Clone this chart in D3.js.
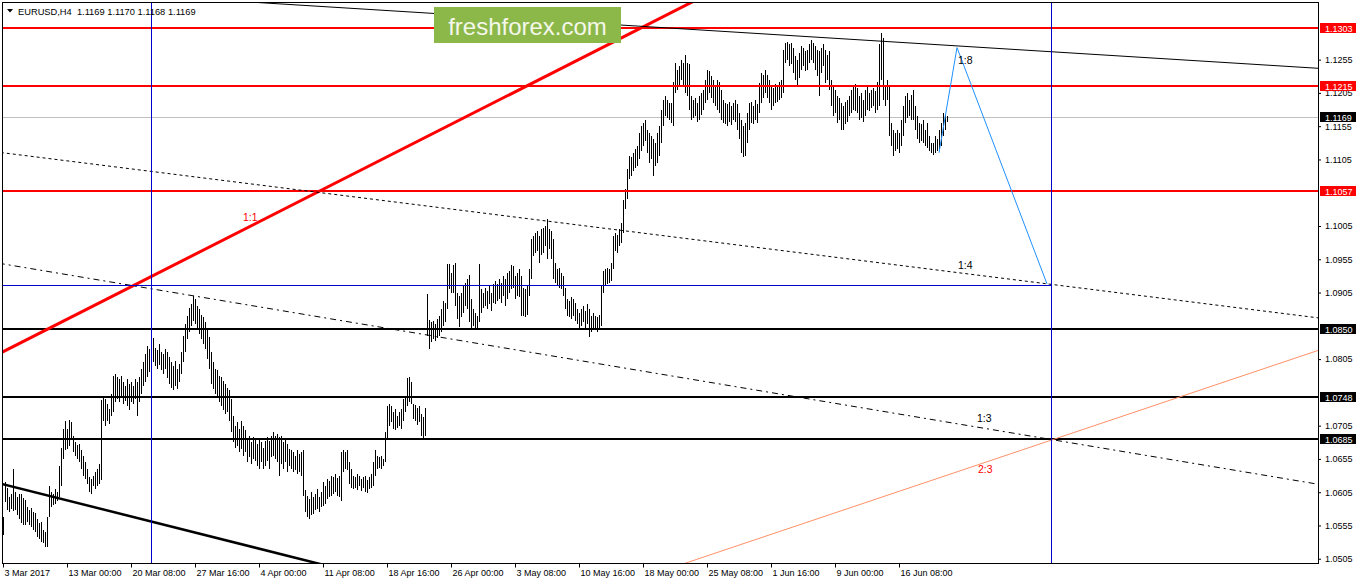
<!DOCTYPE html>
<html><head><meta charset="utf-8">
<script src="https://cdn.jsdelivr.net/npm/d3@7"></script>
<style>
html,body{margin:0;padding:0;background:#fff;}
svg{display:block;}
text{font-family:"Liberation Sans",Arial,sans-serif;}
</style></head><body>
<svg id="chart" width="1358" height="584"></svg>
<script>
// ---------------- DATA ----------------
const symbolTitle = "EURUSD,H4  1.1169 1.1170 1.1168 1.1169";
const timeLabels = ["3 Mar 2017","13 Mar 00:00","20 Mar 08:00","27 Mar 16:00","4 Apr 00:00","11 Apr 08:00","18 Apr 16:00","26 Apr 00:00","3 May 08:00","10 May 16:00","18 May 00:00","25 May 08:00","1 Jun 16:00","9 Jun 00:00","16 Jun 08:00"];
const timeLabelBars = [0,32,64,96,128,160,192,224,256,288,320,352,384,416,448];
// scale labels (those hidden under level boxes are left out)
const priceTicks = [1.0505,1.0555,1.0605,1.0655,1.0705,1.0805,1.0905,1.0955,1.1005,1.1105,1.1155,1.1205,1.1255];

// H4 bar highs / lows (bar index = position on the time axis)
const highs = [
1.0568,1.0620,1.0612,1.0598,1.0602,1.0640,1.0605,1.0598,1.0603,1.0603,1.0597,1.0593,1.0583,1.0578,1.0581,1.0575,1.0573,1.0565,1.0558,1.0560,
1.0548,1.0545,1.0568,1.0614,1.0606,1.0602,1.0610,1.0605,1.0645,1.0672,1.0700,1.0712,1.0700,1.0714,1.0710,1.0690,1.0680,1.0676,1.0678,1.0668,
1.0660,1.0650,1.0640,1.0628,1.0625,1.0630,1.0635,1.0640,1.0648,1.0744,1.0748,1.0745,1.0738,1.0730,1.0752,1.0780,1.0782,1.0778,1.0775,1.0780,
1.0770,1.0765,1.0775,1.0768,1.0770,1.0765,1.0775,1.0770,1.0778,1.0790,1.0800,1.0812,1.0825,1.0820,1.0830,1.0836,1.0822,1.0818,1.0828,1.0815,
1.0812,1.0820,1.0815,1.0808,1.0800,1.0795,1.0802,1.0790,1.0798,1.0815,1.0840,1.0858,1.0870,1.0882,1.0888,1.0900,1.0895,1.0885,1.0880,1.0872,
1.0868,1.0860,1.0852,1.0838,1.0815,1.0800,1.0790,1.0788,1.0780,1.0778,1.0772,1.0768,1.0762,1.0758,1.0745,1.0720,1.0705,1.0710,1.0700,1.0712,
1.0705,1.0698,1.0685,1.0690,1.0680,1.0688,1.0683,1.0678,1.0685,1.0680,1.0672,1.0682,1.0688,1.0682,1.0690,1.0695,1.0690,1.0693,1.0688,1.0690,
1.0680,1.0686,1.0678,1.0670,1.0668,1.0665,1.0660,1.0668,1.0662,1.0665,1.0668,1.0608,1.0600,1.0595,1.0605,1.0598,1.0603,1.0610,1.0598,1.0605,
1.0620,1.0615,1.0625,1.0622,1.0630,1.0628,1.0632,1.0626,1.0630,1.0665,1.0668,1.0665,1.0668,1.0650,1.0640,1.0630,1.0628,1.0632,1.0630,1.0625,
1.0628,1.0630,1.0624,1.0628,1.0632,1.0650,1.0668,1.0660,1.0658,1.0660,1.0655,1.0695,1.0735,1.0738,1.0735,1.0725,1.0730,1.0720,1.0726,1.0730,
1.0745,1.0748,1.0776,1.0778,1.0770,1.0738,1.0736,1.0732,1.0735,1.0722,1.0718,1.0732,1.0903,1.0864,1.0860,1.0862,1.0858,1.0866,1.0870,1.0880,
1.0892,1.0890,1.0948,1.0948,1.0935,1.0946,1.0950,1.0905,1.0900,1.0905,1.0915,1.0920,1.0925,1.0931,1.0895,1.0880,1.0875,1.0870,1.0948,1.0910,
1.0905,1.0912,1.0908,1.0915,1.0905,1.0918,1.0922,1.0918,1.0925,1.0920,1.0930,1.0925,1.0935,1.0938,1.0946,1.0945,1.0930,1.0935,1.0940,1.0930,
1.0912,1.0910,1.0915,1.0940,1.0985,1.0990,1.0995,1.0998,1.0990,1.1000,1.1002,1.1005,1.1015,1.1000,1.0998,1.0985,1.0950,1.0940,1.0942,1.0935,
1.0930,1.0912,1.0895,1.0892,1.0898,1.0895,1.0890,1.0880,1.0875,1.0880,1.0885,1.0878,1.0888,1.0880,1.0870,1.0875,1.0870,1.0868,1.0872,1.0915,
1.0938,1.0940,1.0942,1.0940,1.0950,1.0990,1.0995,1.0992,1.1000,1.1010,1.1044,1.1060,1.1090,1.1110,1.1108,1.1115,1.1120,1.1125,1.1145,1.1155,
1.1160,1.1165,1.1150,1.1145,1.1140,1.1135,1.1130,1.1145,1.1155,1.1180,1.1195,1.1200,1.1195,1.1190,1.1190,1.1222,1.1250,1.1240,1.1245,1.1255,
1.1250,1.1262,1.1250,1.1248,1.1200,1.1195,1.1198,1.1190,1.1200,1.1205,1.1210,1.1225,1.1240,1.1238,1.1230,1.1225,1.1215,1.1225,1.1222,1.1210,
1.1195,1.1190,1.1188,1.1192,1.1185,1.1190,1.1195,1.1188,1.1175,1.1165,1.1155,1.1160,1.1175,1.1190,1.1192,1.1185,1.1195,1.1188,1.1220,1.1235,
1.1232,1.1240,1.1232,1.1225,1.1215,1.1212,1.1218,1.1215,1.1222,1.1225,1.1270,1.1280,1.1282,1.1278,1.1280,1.1272,1.1260,1.1255,1.1265,1.1275,
1.1272,1.1268,1.1270,1.1278,1.1285,1.1280,1.1275,1.1270,1.1268,1.1272,1.1278,1.1270,1.1262,1.1268,1.1225,1.1215,1.1210,1.1200,1.1198,1.1190,
1.1185,1.1192,1.1195,1.1200,1.1210,1.1215,1.1218,1.1212,1.1200,1.1205,1.1195,1.1210,1.1215,1.1205,1.1210,1.1212,1.1208,1.1222,1.1278,1.1295,
1.1288,1.1215,1.1225,1.1215,1.1160,1.1150,1.1145,1.1150,1.1145,1.1165,1.1185,1.1200,1.1205,1.1195,1.1202,1.1210,1.1185,1.1170,1.1160,1.1158,
1.1165,1.1150,1.1160,1.1140,1.1130,1.1130,1.1140,1.1135,1.1150,1.1160,1.1175,1.1172,1.1170];
const lows = [
1.0541,1.0590,1.0578,1.0575,1.0579,1.0577,1.0578,1.0570,1.0565,1.0558,1.0556,1.0556,1.0560,1.0556,1.0553,1.0548,1.0545,1.0538,1.0535,1.0530,
1.0528,1.0523,1.0523,1.0568,1.0583,1.0586,1.0588,1.0592,1.0598,1.0615,1.0655,1.0668,1.0670,1.0675,1.0685,1.0665,1.0660,1.0655,1.0650,1.0640,
1.0630,1.0625,1.0618,1.0605,1.0602,1.0615,1.0610,1.0615,1.0618,1.0623,1.0712,1.0705,1.0712,1.0708,1.0720,1.0725,1.0740,1.0745,1.0740,1.0750,
1.0738,1.0742,1.0735,1.0728,1.0740,1.0738,1.0745,1.0720,1.0740,1.0752,1.0765,1.0770,1.0778,1.0785,1.0792,1.0800,1.0795,1.0790,1.0796,1.0788,
1.0782,1.0790,1.0776,1.0768,1.0762,1.0758,1.0765,1.0760,1.0770,1.0782,1.0800,1.0815,1.0835,1.0845,1.0855,1.0862,1.0858,1.0850,1.0842,1.0835,
1.0828,1.0820,1.0805,1.0790,1.0768,1.0760,1.0752,1.0748,1.0740,1.0735,1.0728,1.0722,1.0726,1.0712,1.0695,1.0680,1.0672,1.0675,1.0665,1.0670,
1.0660,1.0665,1.0650,1.0658,1.0648,1.0655,1.0652,1.0645,1.0640,1.0650,1.0640,1.0645,1.0652,1.0640,1.0658,1.0660,1.0655,1.0650,1.0630,1.0648,
1.0640,1.0650,1.0635,1.0645,1.0640,1.0635,1.0638,1.0632,1.0636,1.0630,1.0600,1.0575,1.0568,1.0565,1.0570,1.0572,1.0578,1.0580,1.0575,1.0582,
1.0585,1.0588,1.0595,1.0598,1.0600,1.0603,1.0605,1.0600,1.0598,1.0592,1.0635,1.0640,1.0638,1.0618,1.0612,1.0610,1.0612,1.0608,1.0615,1.0607,
1.0612,1.0605,1.0604,1.0610,1.0612,1.0615,1.0630,1.0640,1.0642,1.0640,1.0645,1.0650,1.0685,1.0705,1.0710,1.0700,1.0698,1.0702,1.0705,1.0700,
1.0712,1.0725,1.0735,1.0740,1.0738,1.0715,1.0712,1.0706,1.0710,1.0690,1.0685,1.0690,1.0840,1.0820,1.0830,1.0835,1.0832,1.0836,1.0840,1.0845,
1.0855,1.0860,1.0880,1.0910,1.0905,1.0905,1.0885,1.0865,1.0853,1.0868,1.0875,1.0885,1.0880,1.0860,1.0852,1.0855,1.0852,1.0852,1.0860,1.0875,
1.0882,1.0885,1.0880,1.0888,1.0878,1.0890,1.0888,1.0892,1.0895,1.0890,1.0900,1.0885,1.0895,1.0905,1.0910,1.0912,1.0895,1.0900,1.0898,1.0870,
1.0870,1.0868,1.0872,1.0900,1.0925,1.0960,1.0965,1.0968,1.0950,1.0962,1.0965,1.0975,1.0955,1.0970,1.0955,1.0925,1.0920,1.0915,1.0912,1.0910,
1.0900,1.0880,1.0870,1.0868,1.0865,1.0870,1.0862,1.0858,1.0852,1.0855,1.0860,1.0852,1.0858,1.0838,1.0845,1.0848,1.0850,1.0845,1.0848,1.0855,
1.0905,1.0915,1.0918,1.0920,1.0922,1.0940,1.0968,1.0965,1.0975,1.0980,1.0995,1.1030,1.1045,1.1075,1.1080,1.1088,1.1092,1.1095,1.1105,1.1118,
1.1125,1.1132,1.1115,1.1100,1.1105,1.1080,1.1095,1.1100,1.1110,1.1130,1.1155,1.1170,1.1168,1.1165,1.1160,1.1155,1.1205,1.1210,1.1215,1.1225,
1.1215,1.1205,1.1200,1.1180,1.1165,1.1168,1.1170,1.1162,1.1165,1.1172,1.1180,1.1190,1.1195,1.1205,1.1198,1.1190,1.1185,1.1180,1.1175,1.1165,
1.1160,1.1158,1.1155,1.1162,1.1157,1.1165,1.1162,1.1150,1.1135,1.1115,1.1108,1.1110,1.1130,1.1150,1.1160,1.1158,1.1165,1.1160,1.1175,1.1190,
1.1198,1.1205,1.1198,1.1190,1.1180,1.1185,1.1190,1.1192,1.1195,1.1198,1.1205,1.1250,1.1255,1.1245,1.1248,1.1235,1.1225,1.1215,1.1228,1.1240,
1.1245,1.1238,1.1240,1.1250,1.1255,1.1250,1.1240,1.1230,1.1200,1.1235,1.1245,1.1220,1.1225,1.1210,1.1185,1.1170,1.1175,1.1160,1.1165,1.1150,
1.1150,1.1158,1.1162,1.1170,1.1175,1.1180,1.1178,1.1175,1.1165,1.1168,1.1162,1.1170,1.1180,1.1178,1.1182,1.1185,1.1175,1.1180,1.1185,1.1225,
1.1195,1.1185,1.1195,1.1140,1.1125,1.1110,1.1118,1.1120,1.1115,1.1125,1.1140,1.1160,1.1168,1.1170,1.1165,1.1165,1.1150,1.1135,1.1130,1.1132,
1.1130,1.1125,1.1122,1.1118,1.1115,1.1112,1.1115,1.1118,1.1120,1.1125,1.1140,1.1150,1.1162];

const redLevels = [1.1303, 1.1215, 1.1057];
const blackLevels = [1.0850, 1.0748, 1.0685];
const lastPrice = 1.1169;

// trend lines: two anchor points [barIndex, price]
const trendLines = [
  {anchors: [[0, 1.0816], [343.5, 1.1340]], color: "#ff0000", width: 3,   dash: null},        // 1:1
  {anchors: [[341, 1.1301], [657.5, 1.1242]], color: "#000000", width: 1, dash: null},        // upper channel
  {anchors: [[0, 1.1115], [657.5, 1.0867]], color: "#000000", width: 1,   dash: "3,3"},       // 1:4
  {anchors: [[0, 1.0948], [657.5, 1.0617]], color: "#000000", width: 1,   dash: "6,4,2,4"},   // 1:3
  {anchors: [[341.85, 1.0499], [657.5, 1.0818]], color: "#ff9068", width: 1, dash: null},     // 2:3
  {anchors: [[0, 1.0617], [156, 1.0499]], color: "#000000", width: 2.5, dash: null}           // lower channel
];
const projection = [[468, 1.1115], [477, 1.1273], [522, 1.0918]];
const markerBars = [74, 524];
const markerPrice = 1.0916;
const annotations = [
  {text: "1:1", bar: 120,   price: 1.1012, color: "#ff0000"},
  {text: "1:8", bar: 477.5, price: 1.1248, color: "#000000"},
  {text: "1:4", bar: 477.5, price: 1.0941, color: "#000000"},
  {text: "1:3", bar: 487,   price: 1.0710, color: "#000000"},
  {text: "2:3", bar: 487.5, price: 1.0634, color: "#ff0000"}
];

// ---------------- DRAW ----------------
const svg = d3.select("#chart");
const L = 3, R = 1318, T = 3, B = 563;
const x = d3.scaleLinear().domain([0, 657.5]).range([L, R]);
const y = d3.scaleLinear().domain([1.04986, 1.13401]).range([B, T]);

svg.append("rect").attr("width", 1358).attr("height", 584).attr("fill", "#fff");
svg.append("clipPath").attr("id", "plotClip")
  .append("rect").attr("x", L).attr("y", T).attr("width", R - L).attr("height", B - T);

const plot = svg.append("g").attr("clip-path", "url(#plotClip)");

// current price line
plot.append("line")
  .attr("x1", L).attr("x2", R)
  .attr("y1", Math.round(y(lastPrice)) + 0.5).attr("y2", Math.round(y(lastPrice)) + 0.5)
  .attr("stroke", "#c0c0c0").attr("stroke-width", 1);

// bars
const bars = highs.map((h, i) => ({i, h, l: lows[i]}));
plot.append("g").attr("shape-rendering", "crispEdges")
  .selectAll("line").data(bars).join("line")
  .attr("x1", d => Math.round(x(d.i)) + 0.5).attr("x2", d => Math.round(x(d.i)) + 0.5)
  .attr("y1", d => Math.round(y(d.h))).attr("y2", d => Math.max(Math.round(y(d.l)), Math.round(y(d.h)) + 1))
  .attr("stroke", "#000").attr("stroke-width", 1);

// horizontal levels
plot.append("g").attr("shape-rendering", "crispEdges")
  .selectAll("line").data(redLevels.map(v => ({v, c: "#ff0000"})).concat(blackLevels.map(v => ({v, c: "#000000"}))))
  .join("line")
  .attr("x1", L).attr("x2", R)
  .attr("y1", d => Math.round(y(d.v))).attr("y2", d => Math.round(y(d.v)))
  .attr("stroke", d => d.c).attr("stroke-width", 2);

// trend lines (extended across the chart)
function extend(a) {
  const [p1, p2] = a;
  const k = (p2[1] - p1[1]) / (p2[0] - p1[0]);
  const x0 = -10, x1 = 670;
  return [[x0, p1[1] + k * (x0 - p1[0])], [x1, p1[1] + k * (x1 - p1[0])]];
}
const lineGen = d3.line().x(d => x(d[0])).y(d => y(d[1]));
trendLines.forEach(t => {
  plot.append("path")
    .attr("d", lineGen(extend(t.anchors)))
    .attr("fill", "none").attr("stroke", t.color).attr("stroke-width", t.width)
    .attr("stroke-dasharray", t.dash);
});

// blue markers
const blue = "#0000cd";
plot.append("g").attr("shape-rendering", "crispEdges")
  .selectAll("line").data(markerBars).join("line")
  .attr("x1", d => Math.round(x(d)) + 0.5).attr("x2", d => Math.round(x(d)) + 0.5)
  .attr("y1", T).attr("y2", B).attr("stroke", blue).attr("stroke-width", 1);
plot.append("line").attr("shape-rendering", "crispEdges")
  .attr("x1", L).attr("x2", Math.round(x(markerBars[1])) + 1)
  .attr("y1", Math.round(y(markerPrice)) + 0.5).attr("y2", Math.round(y(markerPrice)) + 0.5)
  .attr("stroke", blue).attr("stroke-width", 1);

// projected path
plot.append("path").attr("d", lineGen(projection))
  .attr("fill", "none").attr("stroke", "#1e90ff").attr("stroke-width", 1);

// annotations
plot.append("g").selectAll("text").data(annotations).join("text")
  .attr("x", d => x(d.bar)).attr("y", d => y(d.price))
  .attr("fill", d => d.color).attr("font-size", "10.5px").text(d => d.text);

// frame
svg.append("rect").attr("x", 2.5).attr("y", 2.5).attr("width", R - 2).attr("height", B - 2)
  .attr("fill", "none").attr("stroke", "#000").attr("stroke-width", 1).attr("shape-rendering", "crispEdges");

// title
svg.append("path").attr("d", "M7,9 L13,9 L10,12.5 Z").attr("fill", "#000");
svg.append("text").attr("x", 18).attr("y", 14.5).attr("font-size", "9.3px").attr("fill", "#000")
  .attr("xml:space", "preserve").style("white-space", "pre").text(symbolTitle);

// logo
svg.append("rect").attr("x", 434).attr("y", 7).attr("width", 187).attr("height", 36).attr("fill", "#8cb84a");
svg.append("text").attr("x", 527.5).attr("y", 35).attr("text-anchor", "middle")
  .attr("font-family", "'Open Sans',sans-serif").attr("font-size", "24px").attr("fill", "#f4f7ea")
  .text("freshforex.com");

// x axis
const xAxis = d3.axisBottom(x).tickValues(timeLabelBars).tickFormat((d, i) => timeLabels[i])
  .tickSize(4).tickSizeOuter(0).tickPadding(2);
const gx = svg.append("g").attr("transform", `translate(0,${B + 0.5})`).call(xAxis);
gx.select(".domain").remove();
gx.selectAll(".tick text").attr("text-anchor", "start").attr("dx", 1)
  .attr("font-size", "9px").attr("font-family", "'Liberation Sans',Arial,sans-serif").attr("fill", "#000");
gx.selectAll(".tick line").attr("stroke", "#000");

// y axis
const yAxis = d3.axisRight(y).tickValues(priceTicks).tickFormat(d3.format(".4f"))
  .tickSize(3).tickSizeOuter(0).tickPadding(4);
const gy = svg.append("g").attr("transform", `translate(${R},0)`).call(yAxis);
gy.select(".domain").attr("stroke", "#000");
gy.selectAll(".tick text").attr("font-size", "9px")
  .attr("font-family", "'Liberation Sans',Arial,sans-serif").attr("fill", "#000");
gy.selectAll(".tick line").attr("stroke", "#000");

// price boxes
const boxes = redLevels.map(v => ({v, c: "#ff0000"}))
  .concat(blackLevels.map(v => ({v, c: "#000000"})))
  .concat([{v: lastPrice, c: "#000000"}]);
const gb = svg.append("g");
gb.selectAll("rect").data(boxes).join("rect")
  .attr("x", R + 2).attr("y", d => Math.round(y(d.v)) - 5).attr("width", 36).attr("height", 10)
  .attr("fill", d => d.c);
gb.selectAll("text").data(boxes).join("text")
  .attr("x", R + 7).attr("y", d => Math.round(y(d.v)) + 3.5)
  .attr("font-size", "9px").attr("fill", "#fff").text(d => d3.format(".4f")(d.v));
</script>
</body></html>
